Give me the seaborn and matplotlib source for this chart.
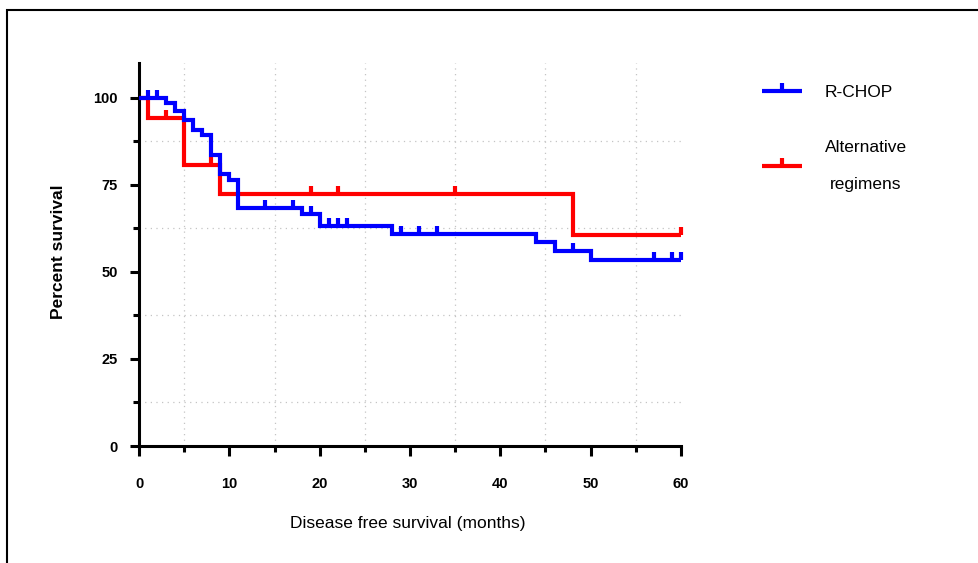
import numpy as np
import matplotlib
matplotlib.use("Agg")
import matplotlib.pyplot as plt
import seaborn as sns
from matplotlib.path import Path
from matplotlib.lines import Line2D
from matplotlib.patches import Rectangle

# ---- data ----
rchop_time = [0, 3, 4, 5, 6, 7, 8, 9, 10, 11, 18, 20, 28, 44, 46, 50, 60]
rchop_surv = [100, 98.6, 96.1, 93.6, 90.8, 89.3, 83.6, 78.0, 76.3, 68.4,
              66.5, 63.1, 60.8, 58.5, 56.1, 53.5, 53.5]
rchop_censor = [1, 2, 14, 17, 19, 21, 22, 23, 29, 31, 33, 48, 57, 59, 60]

alt_time = [0, 1, 5, 9, 48, 60]
alt_surv = [100, 94.1, 80.8, 72.5, 60.5, 60.5]
alt_censor = [3, 8, 19, 22, 35, 60]

labels = ["R-CHOP", "Alternative\nregimens"]
x_ticks = [0, 10, 20, 30, 40, 50, 60]
y_ticks = [0, 25, 50, 75, 100]
x_label = "Disease free survival (months)"
y_label = "Percent survival"

BLUE = "#0000FF"
RED = "#FF0000"

sns.set_style("ticks")
plt.rcParams["font.family"] = ["Liberation Sans", "DejaVu Sans"]
plt.rcParams["text.color"] = "black"
plt.rcParams["axes.labelcolor"] = "black"
plt.rcParams["xtick.color"] = "black"
plt.rcParams["ytick.color"] = "black"

W, H = 979, 563
fig = plt.figure(figsize=(W / 100, H / 100), dpi=100)
ax = fig.add_axes([139 / W, 1 - 446 / H, (681 - 139) / W, (446 - 63) / H])

censor_mark = Path([(0, 0), (0, 1)], [Path.MOVETO, Path.LINETO])


def surv_at(times, surv, t):
    idx = np.searchsorted(times, t, side="right") - 1
    return np.asarray(surv)[idx]


series = [
    (alt_time, alt_surv, alt_censor, RED),
    (rchop_time, rchop_surv, rchop_censor, BLUE),
]
for times, surv, cens, col in series:
    sns.lineplot(x=times, y=surv, ax=ax, color=col, lw=3, drawstyle="steps-post",
                 estimator=None, solid_joinstyle="miter", solid_capstyle="butt",
                 clip_on=False, zorder=3)
    ax.plot(cens, surv_at(times, surv, cens), ls="none", marker=censor_mark,
            ms=11, mew=3, color=col, clip_on=False, zorder=3)

ax.set_xlim(0, 60)
ax.set_ylim(0, 110)
ax.set_xticks(x_ticks)
ax.set_yticks(y_ticks)
ax.set_xticks(np.arange(5, 60, 10), minor=True)
ax.set_yticks([12.5, 37.5, 62.5, 87.5], minor=True)
ax.grid(False)
ax.grid(which="minor", color="#C4C4C4", lw=0.9, ls=(0, (1, 3.5)), zorder=0)

for s in ["top", "right"]:
    ax.spines[s].set_visible(False)
for s in ["left", "bottom"]:
    ax.spines[s].set_linewidth(2.2)
    ax.spines[s].set_color("black")

ax.tick_params(axis="both", which="major", direction="out", width=2.2,
               color="black", labelcolor="black", labelsize=10.5)
ax.tick_params(axis="x", which="major", length=7, pad=15)
ax.tick_params(axis="y", which="major", length=6.5, pad=9)
ax.tick_params(axis="both", which="minor", direction="out", width=2.2,
               length=4, color="black")
for lab in ax.get_xticklabels() + ax.get_yticklabels():
    lab.set_fontweight("bold")

ax.set_xlabel(x_label, fontsize=12.5, color="black")
ax.set_ylabel(y_label, fontsize=12.5, fontweight="bold", color="black")
ax.xaxis.set_label_coords(0.495, -0.183)
ax.yaxis.set_label_coords(-0.135, 0.506)

handles = [
    Line2D([], [], color=BLUE, lw=3, marker=censor_mark, ms=11, mew=3,
           solid_capstyle="butt"),
    Line2D([], [], color=RED, lw=3, marker=censor_mark, ms=11, mew=3,
           solid_capstyle="butt"),
]
leg = ax.legend(handles, labels, loc="upper left",
                bbox_to_anchor=(762 / W, 1 - 85 / H), bbox_transform=fig.transFigure,
                frameon=False, fontsize=12.5, handlelength=2.3, handletextpad=1.3,
                labelspacing=2.3, borderpad=0, borderaxespad=0, numpoints=1,
                labelcolor="black")
for t in leg.get_texts():
    t.set_multialignment("center")
    t.set_linespacing(2.8)

fig.add_artist(Rectangle((7 / W, -0.1), 1.2, 1.1 - 10 / H, transform=fig.transFigure,
                         fill=False, ec="black", lw=1.5))

fig.savefig("out.png", dpi=100, facecolor="white")
